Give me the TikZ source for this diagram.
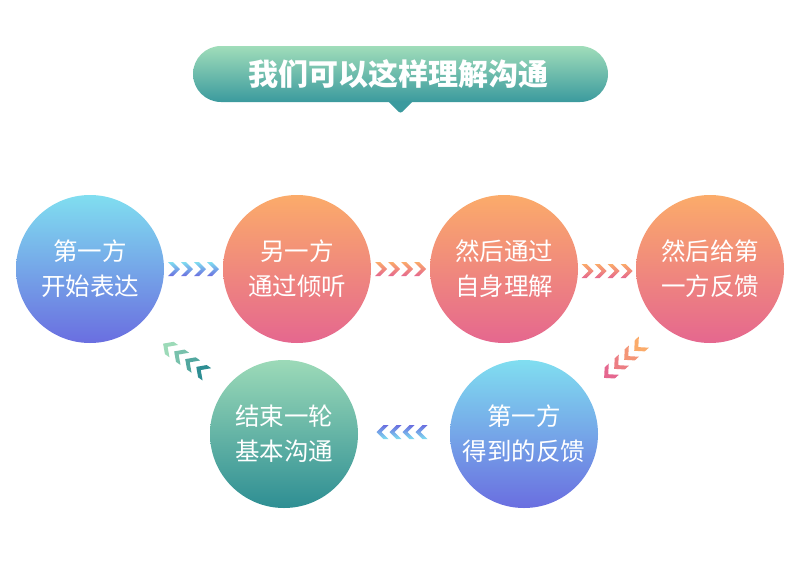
\documentclass[tikz,border=0pt]{standalone}
\usepackage{fontspec}
\newfontfamily\cjk{Noto Sans CJK SC}
\usetikzlibrary{calc}
\definecolor{bluetop}{HTML}{80DEF0}
\definecolor{bluebot}{HTML}{6A6EE0}
\definecolor{ortop}{HTML}{FBAB6A}
\definecolor{orbot}{HTML}{E5678F}
\definecolor{grtop}{HTML}{9CDAB8}
\definecolor{grbot}{HTML}{2E8E93}
\definecolor{tttop}{HTML}{A0DDBA}
\definecolor{ttbot}{HTML}{3B9A9E}
\newcommand\chevrow[4]{%
  \begin{scope}[shift={#1}, rotate=#2]
    \foreach \i in {-1.5,-0.5,0.5,1.5}
      \shade[top color=#3, bottom color=#4]
        ({\i*13-6},7) -- ({\i*13-1},7) -- ({\i*13+6},0) -- ({\i*13-1},-7)
        -- ({\i*13-6},-7) -- ({\i*13+1},0) -- cycle;
  \end{scope}}
\newcommand\diagchev[4]{%
  \begin{scope}[shift={#1}, rotate=#2]
    \foreach \i/\p in {-1.5/100,-0.5/67,0.5/33,1.5/0}
      \fill[#3!\p!#4]
        ({\i*13.5-6.5},7.5) -- ({\i*13.5-1},7.5) -- ({\i*13.5+6.5},0) -- ({\i*13.5-1},-7.5)
        -- ({\i*13.5-6.5},-7.5) -- ({\i*13.5+1},0) -- cycle;
  \end{scope}}
\begin{document}
\begin{tikzpicture}[x=1pt,y=1pt,
  bubble/.style={circle, minimum size=148pt, inner sep=0pt, text=white,
    font=\cjk\fontsize{24.5}{35}\selectfont, align=center},
  bluec/.style={bubble, top color=bluetop, bottom color=bluebot},
  orc/.style={bubble, top color=ortop, bottom color=orbot},
  grc/.style={bubble, top color=grtop, bottom color=grbot},
  titlebox/.style={rectangle, rounded corners=28pt, minimum width=415pt,
    minimum height=56pt, top color=tttop, bottom color=ttbot, text=white,
    font=\cjk\bfseries\fontsize{30}{32}\selectfont}]
\useasboundingbox (0,0) rectangle (800,-570);
\fill[white] (0,0) rectangle (800,-570);

% title
\node[titlebox] (t) at (400.5,-74) {\hspace*{-5pt}我们可以这样理解沟通};
\fill[ttbot] ($(t.south)+(-12,0.6)$) -- ($(t.south)+(-2,-9.5)$)
  to[out=-45,in=-135] ($(t.south)+(2,-9.5)$) -- ($(t.south)+(12,0.6)$) -- cycle;

% circles
\node[bluec] (c1) at (90,-269) {第一方\\开始表达};
\node[orc] (c2) at (297,-269) {另一方\\通过倾听};
\node[orc] (c3) at (504,-269) {然后通过\\自身理解};
\node[orc] (c4) at (710,-269) {然后给第\\一方反馈};
\node[bluec] (c5) at (524,-434) {第一方\\得到的反馈};
\node[grc] (c6) at (284,-434) {结束一轮\\基本沟通};

% connectors
\chevrow{($(c1.east)!0.5!(c2.west)$)}{0}{bluetop}{bluebot}
\chevrow{($(c2.east)!0.5!(c3.west)$)}{0}{ortop}{orbot}
\chevrow{($(c3.east)!0.5!(c4.west)+(0,-2)$)}{0}{ortop}{orbot}
\diagchev{($(c4)!0.5!(c5)+(7,-8.5)$)}{222}{ortop}{orbot}
\chevrow{($(c5.west)!0.5!(c6.east)+(-2,2)$)}{180}{bluebot}{bluetop}
\diagchev{($(c6)!0.5!(c1)+(-2,-7.5)$)}{145}{grbot}{grtop}
\end{tikzpicture}
\end{document}
